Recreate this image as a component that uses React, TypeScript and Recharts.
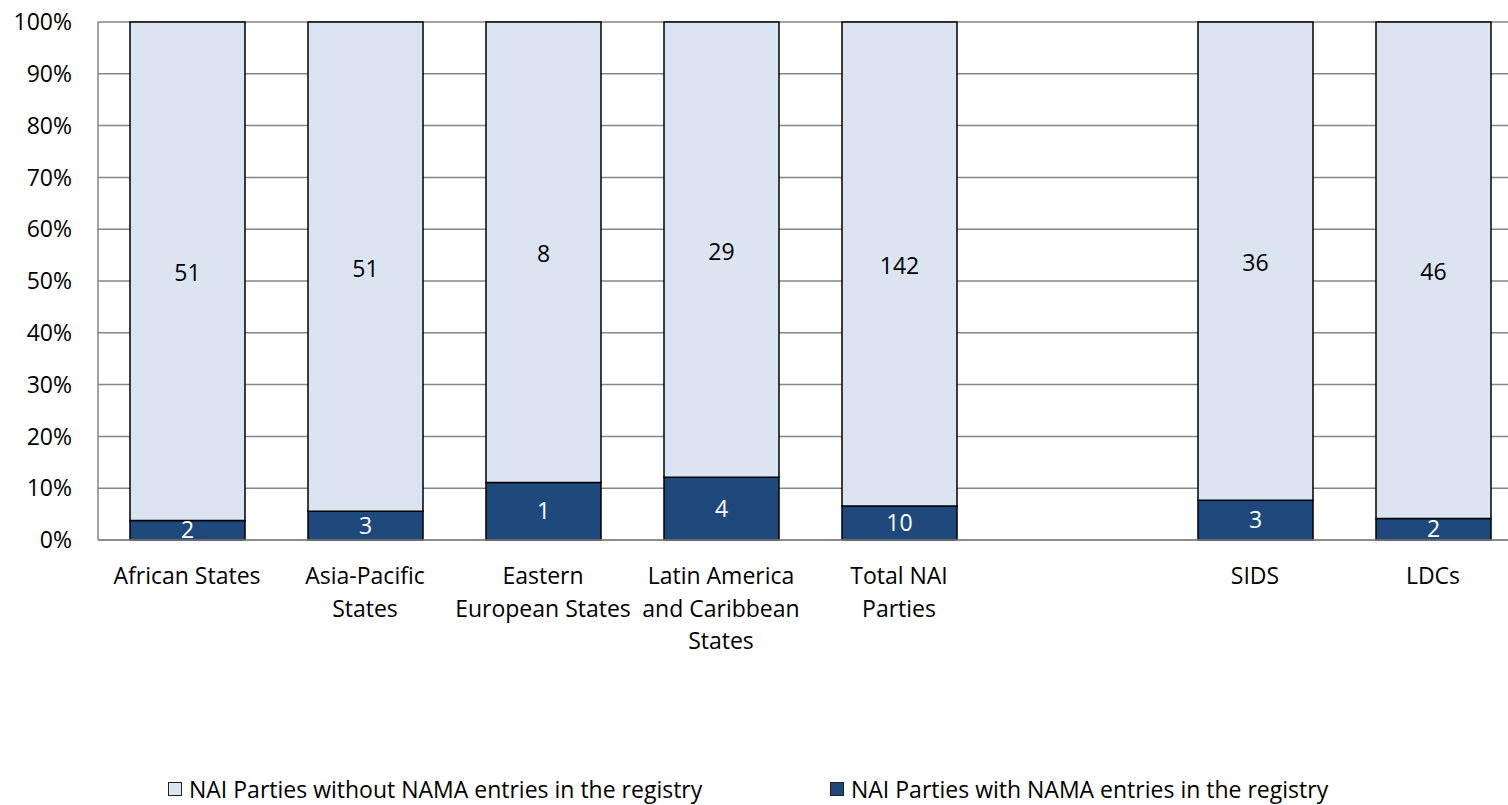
import React from 'react';
import { BarChart, Bar, XAxis, YAxis, CartesianGrid, Legend, LabelList } from 'recharts';

// categories (an empty slot separates the regional groups from SIDS / LDCs)
const categories = [
  'African States',
  'Asia-Pacific States',
  'Eastern European States',
  'Latin America and Caribbean States',
  'Total NAI Parties',
  '',
  'SIDS',
  'LDCs',
];

// how each tick label wraps
const tickLines: string[][] = [
  ['African States'],
  ['Asia-Pacific', 'States'],
  ['Eastern', 'European States'],
  ['Latin America', 'and Caribbean', 'States'],
  ['Total NAI', 'Parties'],
  [],
  ['SIDS'],
  ['LDCs'],
];

const withNama: (number | null)[] = [2, 3, 1, 4, 10, null, 3, 2];
const withoutNama: (number | null)[] = [51, 51, 8, 29, 142, null, 36, 46];

const yTicks = [0, 0.1, 0.2, 0.3, 0.4, 0.5, 0.6, 0.7, 0.8, 0.9, 1];

const LIGHT = '#DBE5F1';
const DARK = '#1F497D';
const GRID = '#868686';
const FONT = '"Open Sans", sans-serif';
const FS = 23;

const data = categories.map((name, i) => ({
  name,
  idx: i,
  with: withNama[i],
  without: withoutNama[i],
}));

const CategoryTick = (props: any) => {
  const { x, y, index } = props;
  const lines = tickLines[index] || [];
  return (
    <text x={x} y={y} textAnchor="middle" fill="#000" fontSize={FS} fontFamily={FONT}>
      {lines.map((l, i) => (
        <tspan key={i} x={x} dy={i === 0 ? 42 : 32.5}>
          {l}
        </tspan>
      ))}
    </text>
  );
};

const legendItems = [
  { left: 168, fill: LIGHT, label: 'NAI Parties without NAMA entries in the registry' },
  { left: 830, fill: DARK, label: 'NAI Parties with NAMA entries in the registry' },
];

const LegendContent = () => (
  <div style={{ position: 'relative', height: 28, fontFamily: FONT, fontSize: FS, color: '#000' }}>
    {legendItems.map((it) => (
      <div key={it.label} style={{ position: 'absolute', left: it.left, top: 0, height: 24, display: 'flex', alignItems: 'center', whiteSpace: 'nowrap' }}>
        <span style={{ display: 'inline-block', width: 12, height: 12, background: it.fill, border: '1.5px solid #222', marginRight: 7 }} />
        <span style={{ lineHeight: '24px' }}>{it.label}</span>
      </div>
    ))}
  </div>
);

export default function App() {
  return (
    <div style={{ position: 'absolute', left: 0, top: 0, width: 1508, height: 805, overflow: 'hidden', background: '#fff' }}>
      <BarChart
        width={1522}
        height={805}
        data={data}
        stackOffset="expand"
        margin={{ top: 22, right: 0, bottom: 0, left: 0 }}
        barSize={115}
      >
        <CartesianGrid vertical={false} stroke={GRID} strokeWidth={1.5} />
        <XAxis
          dataKey="idx"
          interval={0}
          tickLine={false}
          tickSize={0}
          axisLine={{ stroke: GRID, strokeWidth: 1.5 }}
          height={237}
          tick={<CategoryTick />}
        />
        <YAxis
          width={98}
          domain={[0, 1]}
          ticks={yTicks}
          tickFormatter={(v: number) => `${Math.round(v * 100)}%`}
          tickLine={false}
          tickSize={0}
          tickMargin={26}
          axisLine={{ stroke: GRID, strokeWidth: 1.5 }}
          tick={{ fill: '#000', fontSize: FS, fontFamily: FONT }}
        />
        <Legend verticalAlign="bottom" content={<LegendContent />} />
        <Bar dataKey="with" stackId="a" fill={DARK} stroke="#000" strokeWidth={1.5} isAnimationActive={false}>
          <LabelList dataKey="with" position="center" fill="#fff" fontSize={FS} fontFamily={FONT} />
        </Bar>
        <Bar dataKey="without" stackId="a" fill={LIGHT} stroke="#000" strokeWidth={1.5} isAnimationActive={false}>
          <LabelList dataKey="without" position="center" offset={0} dy={2} fill="#000" fontSize={FS} fontFamily={FONT} />
        </Bar>
      </BarChart>
    </div>
  );
}
